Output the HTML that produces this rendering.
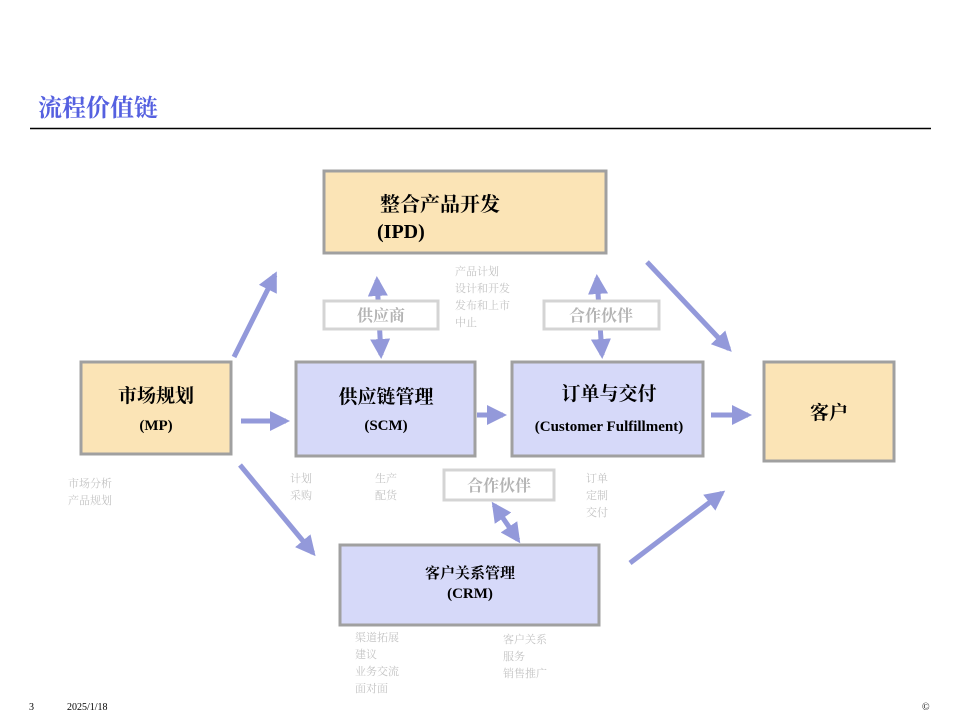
<!DOCTYPE html>
<html><head><meta charset="utf-8"><style>
html,body{margin:0;padding:0;background:#fff;}
svg{display:block}
.s{font-family:"Liberation Serif","Noto Serif CJK SC",serif;fill:#c4c4c4;font-size:11px;}
.b{font-family:"Liberation Serif","Noto Serif CJK SC",serif;fill:#000;font-weight:bold;}
.g{font-family:"Liberation Serif","Noto Serif CJK SC",serif;fill:#b4b4b4;font-weight:bold;font-size:16px;}
</style></head><body>
<svg width="960" height="720" viewBox="0 0 960 720" xmlns="http://www.w3.org/2000/svg">
<defs>
<marker id="a" viewBox="0 0 10 10" refX="8" refY="5" markerWidth="4" markerHeight="4" orient="auto-start-reverse"><path d="M0,0 L10,5 L0,10 z" fill="#9399da"/></marker>
</defs>
<text x="38" y="116" style="font-family:'Noto Serif CJK SC',serif;font-size:24px;fill:#5560e0;font-weight:bold">流程价值链</text>
<line x1="30" y1="128.5" x2="931" y2="128.5" stroke="#000" stroke-width="1.5"/>

<g stroke="#9399da" stroke-width="5" fill="none" marker-end="url(#a)">
<line x1="234" y1="357" x2="275" y2="275"/>
<line x1="241" y1="421" x2="286" y2="421"/>
<line x1="477" y1="415" x2="503" y2="415"/>
<line x1="711" y1="415" x2="748" y2="415"/>
<line x1="240" y1="465" x2="313" y2="553"/>
<line x1="647" y1="262" x2="729" y2="349"/>
<line x1="630" y1="563" x2="722" y2="493"/>
<line x1="377" y1="280" x2="381" y2="355" marker-start="url(#a)"/>
<line x1="597" y1="278" x2="602" y2="355" marker-start="url(#a)"/>
<line x1="494" y1="505" x2="518" y2="540" marker-start="url(#a)"/>
</g>

<g stroke="#a0a0a0" stroke-width="3">
<rect x="324" y="171" width="282" height="82" fill="#fbe4b6"/>
<rect x="81" y="362" width="150" height="92" fill="#fbe4b6"/>
<rect x="296" y="362" width="179" height="94" fill="#d6d9f9"/>
<rect x="512" y="362" width="191" height="94" fill="#d6d9f9"/>
<rect x="764" y="362" width="130" height="99" fill="#fbe4b6"/>
<rect x="340" y="545" width="259" height="80" fill="#d6d9f9"/>
</g>
<g stroke="#d4d4d4" stroke-width="3" fill="#fff">
<rect x="324" y="301" width="114" height="28"/>
<rect x="544" y="301" width="115" height="28"/>
<rect x="444" y="470" width="110" height="30"/>
</g>
<text class="g" x="381" y="321" text-anchor="middle">供应商</text>
<text class="g" x="601" y="321" text-anchor="middle">合作伙伴</text>
<text class="g" x="499" y="491" text-anchor="middle">合作伙伴</text>

<text class="b" x="380" y="211" font-size="20">整合产品开发</text>
<text class="b" x="377" y="238" font-size="20" font-weight="normal">(IPD)</text>
<text class="b" x="156" y="402" font-size="19" text-anchor="middle">市场规划</text>
<text class="b" x="156" y="430" font-size="15" text-anchor="middle" font-weight="normal">(MP)</text>
<text class="b" x="386" y="403" font-size="19" text-anchor="middle">供应链管理</text>
<text class="b" x="386" y="430" font-size="15" text-anchor="middle" font-weight="normal">(SCM)</text>
<text class="b" x="609" y="400" font-size="19" text-anchor="middle">订单与交付</text>
<text class="b" x="609" y="431" font-size="15" text-anchor="middle" font-weight="normal">(Customer Fulfillment)</text>
<text class="b" x="829" y="419" font-size="19" text-anchor="middle">客户</text>
<text class="b" x="470" y="578" font-size="15" text-anchor="middle">客户关系管理</text>
<text class="b" x="470" y="598" font-size="15" text-anchor="middle" font-weight="normal">(CRM)</text>

<g class="s">
<text x="455" y="275">产品计划</text><text x="455" y="292">设计和开发</text><text x="455" y="309">发布和上市</text><text x="455" y="326">中止</text>
<text x="68" y="487">市场分析</text><text x="68" y="504">产品规划</text>
<text x="290" y="482">计划</text><text x="290" y="499">采购</text>
<text x="375" y="482">生产</text><text x="375" y="499">配货</text>
<text x="586" y="482">订单</text><text x="586" y="499">定制</text><text x="586" y="516">交付</text>
<text x="355" y="641">渠道拓展</text><text x="355" y="658">建议</text><text x="355" y="675">业务交流</text><text x="355" y="692">面对面</text>
<text x="503" y="643">客户关系</text><text x="503" y="660">服务</text><text x="503" y="677">销售推广</text>
</g>
<g style="font-family:'Liberation Serif',serif;font-size:10px;fill:#000">
<text x="29" y="710">3</text><text x="67" y="710">2025/1/18</text><text x="922" y="710">©</text>
</g>
</svg>
</body></html>
